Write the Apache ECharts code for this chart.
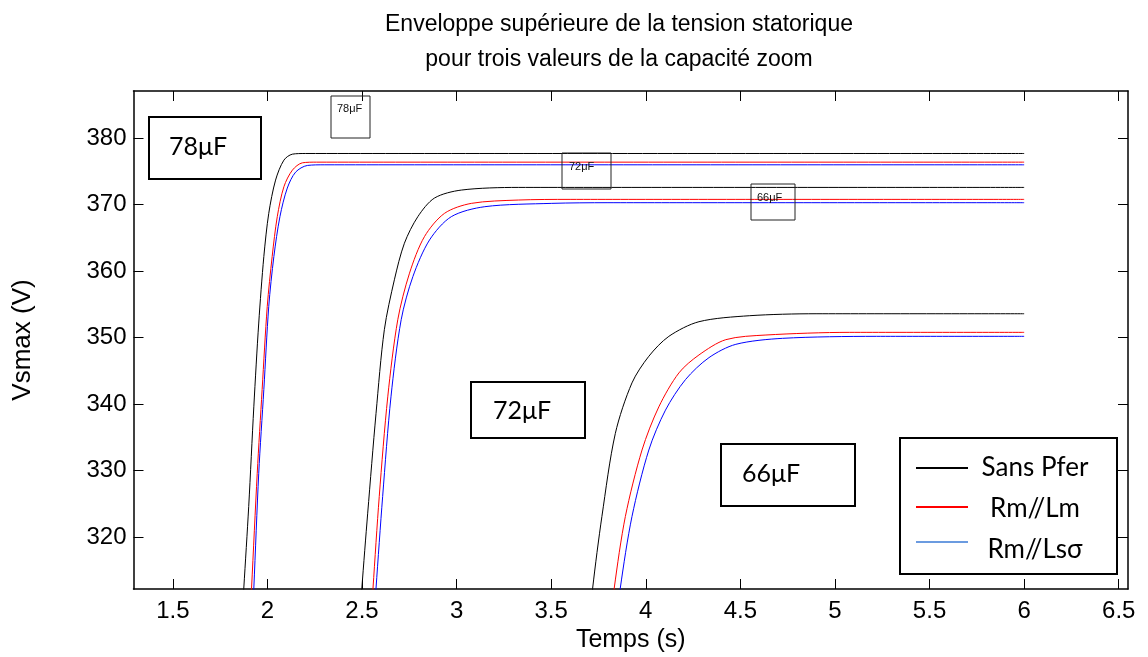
<!DOCTYPE html>
<html>
<head>
<meta charset="utf-8">
<script src="https://cdn.jsdelivr.net/npm/echarts@6/dist/echarts.min.js"></script>
<style>
  html, body { margin: 0; padding: 0; background: #fff; }
  #chart { width: 1148px; height: 657px; }
</style>
</head>
<body>
<div id="chart"></div>
<script>
// Axis tick values
const xTicks = [1.5, 2, 2.5, 3, 3.5, 4, 4.5, 5, 5.5, 6, 6.5];
const yTicks = [320, 330, 340, 350, 360, 370, 380];

// Upper envelope of the stator voltage, [time (s), Vsmax (V)]
// C = 78 µF
const sansPfer78 = [[1.868, 309], [1.875, 312.3], [1.901, 324.6], [1.928, 339.6], [1.954, 352.2], [1.981, 362.2], [2.007, 368.7], [2.043, 373.7], [2.087, 376.7], [2.132, 377.6], [2.2, 377.7], [6, 377.7]];
const rmLm78     = [[1.910, 309], [1.916, 312.3], [1.946, 329.6], [1.972, 342.2], [1.999, 354.7], [2.025, 362.2], [2.052, 368.2], [2.087, 372.7], [2.132, 375.2], [2.185, 376.3], [2.26, 376.4], [6, 376.4]];
const rmLs78     = [[1.922, 309], [1.928, 312.3], [1.954, 329.6], [1.981, 342.2], [2.007, 354.7], [2.034, 362.2], [2.066, 368.2], [2.105, 372.5], [2.149, 374.9], [2.211, 375.9], [2.3, 376.0], [6, 376.0]];
// C = 72 µF
const sansPfer72 = [[2.492, 309], [2.499, 312.3], [2.530, 323.6], [2.574, 338.6], [2.618, 351.2], [2.671, 358.7], [2.724, 364.2], [2.795, 368.2], [2.883, 371.0], [3.025, 372.2], [3.326, 372.6], [6, 372.6]];
const rmLm72     = [[2.551, 309], [2.558, 312.3], [2.591, 326.1], [2.636, 341.1], [2.689, 352.7], [2.751, 359.7], [2.830, 365.2], [2.936, 368.7], [3.078, 370.2], [3.326, 370.7], [3.6, 370.8], [6, 370.8]];
const rmLs72     = [[2.567, 309], [2.574, 312.3], [2.609, 326.1], [2.653, 341.1], [2.707, 352.7], [2.769, 359.2], [2.857, 364.7], [2.972, 368.2], [3.149, 369.7], [3.503, 370.2], [3.8, 370.3], [6, 370.3]];
// C = 66 µF
const sansPfer66 = [[3.711, 309], [3.719, 312.3], [3.768, 323.1], [3.839, 335.6], [3.927, 343.2], [4.016, 347.2], [4.122, 350.2], [4.281, 352.4], [4.547, 353.3], [4.900, 353.6], [6, 353.6]];
const rmLm66     = [[3.824, 309], [3.833, 312.3], [3.892, 323.1], [3.980, 333.1], [4.069, 339.6], [4.175, 344.7], [4.281, 347.4], [4.423, 349.7], [4.635, 350.4], [5.078, 350.8], [6, 350.8]];
const rmLs66     = [[3.856, 309], [3.865, 312.3], [3.927, 323.1], [4.016, 333.1], [4.104, 339.1], [4.210, 343.7], [4.334, 347.0], [4.476, 349.0], [4.723, 349.9], [5.219, 350.2], [6, 350.2]];

const seriesNames = ['Sans Pfer', 'Rm//Lm', 'Rm//Lsσ'];
const seriesColors = ['#000000', '#ff0000', '#0000ff'];
const curves = [
  [sansPfer78, rmLm78, rmLs78],
  [sansPfer72, rmLm72, rmLs72],
  [sansPfer66, rmLm66, rmLs66]
];
const capLabels = ['78μF', '72μF', '66μF'];

const series = [];
curves.forEach((group, gi) => {
  group.forEach((data, k) => {
    series.push({
      name: seriesNames[k] + ' ' + capLabels[gi],
      type: 'line',
      data: data,
      showSymbol: false,
      smooth: 0.3,
      clip: true,
      lineStyle: { color: seriesColors[k], width: 1 },
      itemStyle: { color: seriesColors[k] },
      z: 2
    });
  });
});

const axisFont = '"Liberation Sans", Arial, sans-serif';
const boxFont = 'Lato, "Open Sans", sans-serif';

function bigBox(x, y, w, h, label, tx, ty) {
  return [
    { type: 'rect', shape: { x: x, y: y, width: w, height: h }, style: { fill: 'none', stroke: '#000', lineWidth: 2 }, z: 10 },
    { type: 'text', x: tx, y: ty, style: { text: label, fill: '#000', font: '25px ' + boxFont, textVerticalAlign: 'middle' }, z: 10 }
  ];
}
function smallBox(x, y, w, h, label, tx, ty) {
  return [
    { type: 'rect', shape: { x: x, y: y, width: w, height: h }, style: { fill: 'none', stroke: '#222', lineWidth: 1 }, z: 10 },
    { type: 'text', x: tx, y: ty, style: { text: label, fill: '#111', font: '11px ' + axisFont, textVerticalAlign: 'middle' }, z: 10 }
  ];
}

const legendLineColors = ['#000000', '#ff0000', '#6b9be0'];
const legendItems = [];
[468, 507, 542].forEach((ly, i) => {
  legendItems.push({ type: 'line', shape: { x1: 916, y1: ly, x2: 968, y2: ly }, style: { stroke: legendLineColors[i], lineWidth: 2 }, z: 11 });
});
[468, 509, 550].forEach((ty, i) => {
  legendItems.push({ type: 'text', x: 1035, y: ty, style: { text: seriesNames[i], fill: '#000', font: '26px ' + boxFont, textAlign: 'center', textVerticalAlign: 'middle' }, z: 11 });
});

const graphic = [].concat(
  bigBox(149, 117, 112, 62, capLabels[0], 169, 147),
  bigBox(471, 382, 114, 56, capLabels[1], 493, 411),
  bigBox(721, 444, 134, 62, capLabels[2], 742, 474),
  smallBox(331, 96, 39, 42, capLabels[0], 337, 109),
  smallBox(562, 153, 49, 36, capLabels[1], 569, 167),
  smallBox(751, 184, 44, 36, capLabels[2], 757, 198),
  [{ type: 'rect', shape: { x: 900, y: 438, width: 217, height: 136 }, style: { fill: '#fff', stroke: '#000', lineWidth: 2 }, z: 10 }],
  legendItems
);

const xMin = 1.292, xMax = 6.549, yMin = 312.2, yMax = 387.1;
const axisLineStyle = { color: '#000', width: 1.5 };

const chart = echarts.init(document.getElementById('chart'), null, { renderer: 'canvas' });
chart.setOption({
  animation: false,
  backgroundColor: '#fff',
  title: {
    text: 'Enveloppe supérieure de la tension statorique\npour trois valeurs de la capacité zoom',
    left: 614,
    top: 2,
    textAlign: 'center',
    textStyle: { fontFamily: axisFont, fontSize: 23, fontWeight: 'normal', color: '#000', lineHeight: 35 }
  },
  grid: { left: 133.5, right: 20, top: 91, bottom: 68, containLabel: false, outerBoundsMode: 'none' },
  xAxis: [
    {
      type: 'value', min: xMin, max: xMax, position: 'bottom',
      name: 'Temps (s)', nameLocation: 'middle', nameGap: 37,
      nameTextStyle: { fontFamily: axisFont, fontSize: 25, color: '#000' },
      axisLine: { show: true, onZero: false, lineStyle: axisLineStyle },
      axisTick: { show: true, inside: true, length: 10, customValues: xTicks, lineStyle: { color: '#000', width: 1 } },
      axisLabel: { show: true, customValues: xTicks, margin: 10, fontFamily: axisFont, fontSize: 24, color: '#000' },
      splitLine: { show: false }
    },
    {
      type: 'value', min: xMin, max: xMax, position: 'top',
      axisLine: { show: true, onZero: false, lineStyle: axisLineStyle },
      axisTick: { show: true, inside: true, length: 10, customValues: xTicks, lineStyle: { color: '#000', width: 1 } },
      axisLabel: { show: false },
      splitLine: { show: false }
    }
  ],
  yAxis: [
    {
      type: 'value', min: yMin, max: yMax, position: 'left',
      name: 'Vsmax (V)', nameLocation: 'middle', nameGap: 98,
      nameTextStyle: { fontFamily: axisFont, fontSize: 26, color: '#000' },
      axisLine: { show: true, onZero: false, lineStyle: axisLineStyle },
      axisTick: { show: true, inside: true, length: 10, customValues: yTicks, lineStyle: { color: '#000', width: 1 } },
      axisLabel: { show: true, customValues: yTicks, margin: 7, fontFamily: axisFont, fontSize: 24, color: '#000' },
      splitLine: { show: false }
    },
    {
      type: 'value', min: yMin, max: yMax, position: 'right',
      axisLine: { show: true, onZero: false, lineStyle: axisLineStyle },
      axisTick: { show: true, inside: true, length: 10, customValues: yTicks, lineStyle: { color: '#000', width: 1 } },
      axisLabel: { show: false },
      splitLine: { show: false }
    }
  ],
  series: series,
  graphic: graphic
});
</script>
</body>
</html>
